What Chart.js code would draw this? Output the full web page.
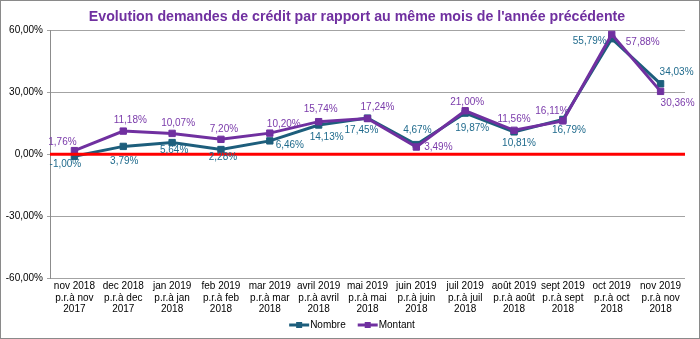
<!DOCTYPE html>
<html lang="fr">
<head>
<meta charset="utf-8">
<title>Evolution demandes de crédit</title>
<script src="https://cdn.jsdelivr.net/npm/chart.js@4.4.1/dist/chart.umd.min.js"></script>
<style>
  html, body { margin: 0; padding: 0; background: #fff; }
</style>
</head>
<body>
<canvas id="creditChart" width="700" height="339"></canvas>
<script>
// Mois comparés (libellés sur trois lignes)
var mois = [
    ['nov 2018', 'p.r.à nov', '2017'],
    ['dec 2018', 'p.r.à dec', '2017'],
    ['jan 2019', 'p.r.à jan', '2018'],
    ['feb 2019', 'p.r.à feb', '2018'],
    ['mar 2019', 'p.r.à mar', '2018'],
    ['avril 2019', 'p.r.à avril', '2018'],
    ['mai 2019', 'p.r.à mai', '2018'],
    ['juin 2019', 'p.r.à juin', '2018'],
    ['juil 2019', 'p.r.à juil', '2018'],
    ['août 2019', 'p.r.à août', '2018'],
    ['sept 2019', 'p.r.à sept', '2018'],
    ['oct 2019', 'p.r.à oct', '2018'],
    ['nov 2019', 'p.r.à nov', '2018']
];

// Evolution en % par rapport au même mois de l'année précédente
var nombre  = [-1.00, 3.79, 5.64, 2.28, 6.46, 14.13, 17.45, 4.67, 19.87, 10.81, 16.79, 55.79, 34.03];
var montant = [1.76, 11.18, 10.07, 7.20, 10.20, 15.74, 17.24, 3.49, 21.00, 11.56, 16.11, 57.88, 30.36];

// Graduations de l'axe vertical
var graduations = [-60, -30, 0, 30, 60];

// Décalage (dx, dy) des étiquettes de valeur par rapport à chaque point
var decalNombre  = [[-9, 8], [1, 15], [2, 8], [2, 8], [20, 4], [8, 12], [-6, 12], [1, -14], [7, 15], [5, 11], [6, 11], [-22, 3], [16, -12]];
var decalMontant = [[-12, -8], [7, -11], [6, -10], [3, -10], [14, -9], [2, -12], [10, -11], [22, 0], [2, -9], [0, -11], [-11, -10], [31, 8], [17, 12]];

var TITRE = "Evolution demandes de crédit par rapport au même mois de l'année précédente";
var COUL_NOMBRE = '#1D5E7C';
var COUL_MONTANT = '#7030A0';
var POLICE = "'Liberation Sans', Arial, sans-serif";

function formatPct(v) {
    return v.toFixed(2).replace('.', ',') + '%';
}

// Ligne du zéro, titre, étiquettes de valeur, légende et cadre
var decorations = {
    id: 'decorations',
    afterDatasetsDraw: function (chart) {
        var ctx = chart.ctx;
        var area = chart.chartArea;
        var decalages = [decalNombre, decalMontant];
        ctx.save();

        // ligne rouge du zéro, par-dessus les courbes
        var y0 = chart.scales.y.getPixelForValue(0);
        ctx.strokeStyle = '#FF0000';
        ctx.lineWidth = 3;
        ctx.beginPath();
        ctx.moveTo(area.left, y0);
        ctx.lineTo(area.right, y0);
        ctx.stroke();

        ctx.font = '10px ' + POLICE;
        ctx.textAlign = 'center';
        ctx.textBaseline = 'middle';
        chart.data.datasets.forEach(function (ds, i) {
            var meta = chart.getDatasetMeta(i);
            ctx.fillStyle = ds.labelColor;
            meta.data.forEach(function (pt, j) {
                var d = decalages[i][j];
                ctx.fillText(formatPct(ds.data[j]), pt.x + d[0], pt.y + d[1]);
            });
        });
        ctx.restore();
    },
    afterDraw: function (chart) {
        var ctx = chart.ctx;
        ctx.save();
        // titre
        ctx.font = 'bold 14.2px ' + POLICE;
        ctx.fillStyle = '#7030A0';
        ctx.textAlign = 'center';
        ctx.textBaseline = 'middle';
        ctx.fillText(TITRE, chart.width / 2 + 7, 17);

        // légende en bas
        ctx.font = '10px ' + POLICE;
        var y = 325;
        var largeurs = chart.data.datasets.map(function (ds) {
            return 20 + 1 + ctx.measureText(ds.label).width;
        });
        var total = largeurs[0] + largeurs[1] + 12;
        var x = chart.width / 2 + 2 - total / 2;
        chart.data.datasets.forEach(function (ds, i) {
            ctx.strokeStyle = ds.borderColor;
            ctx.lineWidth = 3;
            ctx.beginPath();
            ctx.moveTo(x, y);
            ctx.lineTo(x + 20, y);
            ctx.stroke();
            ctx.fillStyle = ds.borderColor;
            ctx.fillRect(x + 7, y - 3, 6, 6);
            ctx.fillStyle = '#000';
            ctx.textAlign = 'left';
            ctx.fillText(ds.label, x + 21, y);
            x += largeurs[i] + 12;
        });

        // cadre du graphique
        ctx.strokeStyle = '#8A8A8A';
        ctx.lineWidth = 1;
        ctx.strokeRect(0.5, 0.5, chart.width - 1, chart.height - 1);
        ctx.restore();
    }
};

var ctx = document.getElementById('creditChart').getContext('2d');
var creditChart = new Chart(ctx, {
    type: 'line',
    data: {
        labels: mois,
        datasets: [
            {
                label: 'Nombre',
                data: nombre,
                borderColor: COUL_NOMBRE,
                backgroundColor: COUL_NOMBRE,
                labelColor: '#1F6A8C',
                borderWidth: 3,
                pointStyle: 'rect',
                pointRadius: 4.5,
                pointBorderWidth: 1,
                tension: 0,
                order: 1
            },
            {
                label: 'Montant',
                data: montant,
                borderColor: COUL_MONTANT,
                backgroundColor: COUL_MONTANT,
                labelColor: '#7A3AAA',
                borderWidth: 3,
                pointStyle: 'rect',
                pointRadius: 4.5,
                pointBorderWidth: 1,
                tension: 0,
                order: 0
            }
        ]
    },
    options: {
        responsive: false,
        animation: false,
        layout: { padding: { left: 0, right: 15, top: 30, bottom: 22 } },
        plugins: {
            legend: { display: false },
            tooltip: { enabled: false },
            title: { display: false }
        },
        scales: {
            x: {
                offset: true,
                grid: { display: false, drawTicks: false },
                border: { display: false },
                ticks: {
                    color: '#000',
                    font: { family: POLICE, size: 10, lineHeight: 1.15 },
                    maxRotation: 0,
                    autoSkip: false,
                    padding: 2
                }
            },
            y: {
                min: -60,
                max: 60,
                afterBuildTicks: function (scale) {
                    scale.ticks = graduations.map(function (v) { return { value: v }; });
                },
                border: { color: '#8C8C8C' },
                grid: {
                    tickLength: 3,
                    color: '#A3A3A3'
                },
                ticks: {
                    color: '#000',
                    font: { family: POLICE, size: 10 },
                    padding: 4,
                    callback: function (v) { return formatPct(v); }
                },
                afterFit: function (scale) { scale.width = 50; }
            }
        }
    },
    plugins: [decorations]
});
</script>
</body>
</html>
